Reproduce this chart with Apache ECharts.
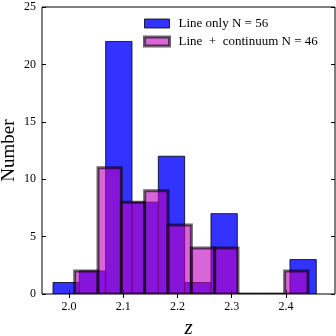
<!DOCTYPE html>
<html>
<head>
<meta charset="utf-8">
<script src="https://cdn.jsdelivr.net/npm/echarts@6/dist/echarts.min.js"></script>
<style>html,body{margin:0;padding:0;background:#fff}#c{width:336px;height:336px}</style>
</head>
<body>
<div id="c"></div>
<script>
// Data
const lineOnlyBinStart = 1.9705;
const lineOnlyBinWidth = 0.04854;
const lineOnlyCounts = [1, 2, 22, 8, 12, 1, 7, 0, 0, 3];
const lineContBinStart = 2.0105;
const lineContBinWidth = 0.04301;
const lineContCounts = [2, 11, 8, 9, 6, 4, 4, 0, 0, 2];
const xTicks = [2.0, 2.1, 2.2, 2.3, 2.4];
const seriesNames = ['Line only N = 56', 'Line  +  continuum N = 46'];

function toBins(start, width, counts) {
  return counts.map((c, i) => [start + i * width, start + (i + 1) * width, c]);
}

const FONT = '"Liberation Serif", "DejaVu Serif", serif';
const blueStyle = { fill: 'rgba(0,0,255,0.8)', stroke: 'rgba(0,0,0,0.8)', lineWidth: 1 };
const pinkStyle = { fill: 'rgba(191,0,191,0.6)', stroke: 'rgba(0,0,0,0.6)', lineWidth: 3 };

function makeRender(st) {
  return function (params, api) {
    const p0 = api.coord([api.value(0), api.value(2)]);
    const p1 = api.coord([api.value(1), 0]);
    return {
      type: 'rect',
      shape: { x: p0[0], y: p0[1], width: p1[0] - p0[0], height: p1[1] - p0[1] },
      style: { fill: st.fill, stroke: st.stroke, lineWidth: st.lineWidth }
    };
  };
}

const chart = echarts.init(document.getElementById('c'), null, { renderer: 'canvas' });
const tickCommon = { show: true, inside: true, length: 4, lineStyle: { color: '#000', width: 1 } };
chart.setOption({
  animation: false,
  grid: { left: 42, right: 1, top: 7, bottom: 42, containLabel: false, outerBoundsMode: 'none', show: true, borderColor: '#000', borderWidth: 1, backgroundColor: 'transparent' },
  legend: {
    orient: 'vertical', left: 138, top: 12, itemWidth: 25, itemHeight: 9, itemGap: 5,
    textStyle: { fontFamily: FONT, fontSize: 13, color: '#000', lineHeight: 13, padding: [0, 0, 0, 4] },
    data: [
      { name: seriesNames[0], icon: 'rect', itemStyle: { color: blueStyle.fill, borderColor: blueStyle.stroke, borderWidth: 1 } },
      { name: seriesNames[1], icon: 'rect', itemStyle: { color: pinkStyle.fill, borderColor: pinkStyle.stroke, borderWidth: 3 } }
    ]
  },
  xAxis: [{
    type: 'value', min: 1.9502, max: 2.4904, position: 'bottom',
    splitLine: { show: false }, axisLine: { show: false },
    axisTick: Object.assign({ customValues: xTicks }, tickCommon),
    axisLabel: { customValues: xTicks, formatter: v => v.toFixed(1), fontFamily: FONT, fontSize: 12, color: '#000', margin: 7 },
    name: 'z', nameLocation: 'middle', nameGap: 22,
    nameTextStyle: { fontFamily: FONT, fontStyle: 'italic', fontSize: 21, color: '#000' }
  }, {
    type: 'value', min: 1.9502, max: 2.4904, position: 'top',
    splitLine: { show: false }, axisLine: { show: false },
    axisTick: Object.assign({ customValues: xTicks }, tickCommon),
    axisLabel: { show: false }
  }],
  yAxis: [{
    type: 'value', min: 0, max: 25, interval: 5, position: 'left',
    splitLine: { show: false }, axisLine: { show: false },
    axisTick: tickCommon,
    axisLabel: { fontFamily: FONT, fontSize: 12, color: '#000', margin: 6 },
    name: 'Number', nameLocation: 'middle', nameGap: 23, nameMoveOverlap: false,
    nameTextStyle: { fontFamily: FONT, fontSize: 19, color: '#000' }
  }, {
    type: 'value', min: 0, max: 25, interval: 5, position: 'right',
    splitLine: { show: false }, axisLine: { show: false },
    axisTick: tickCommon, axisLabel: { show: false }
  }],
  series: [{
    name: seriesNames[0], type: 'custom', clip: true, xAxisIndex: 0, yAxisIndex: 0,
    renderItem: makeRender(blueStyle),
    data: toBins(lineOnlyBinStart, lineOnlyBinWidth, lineOnlyCounts),
    encode: { x: [0, 1], y: 2 }
  }, {
    name: seriesNames[1], type: 'custom', clip: true, xAxisIndex: 0, yAxisIndex: 0,
    renderItem: makeRender(pinkStyle),
    data: toBins(lineContBinStart, lineContBinWidth, lineContCounts),
    encode: { x: [0, 1], y: 2 }
  }]
});
</script>
</body>
</html>
